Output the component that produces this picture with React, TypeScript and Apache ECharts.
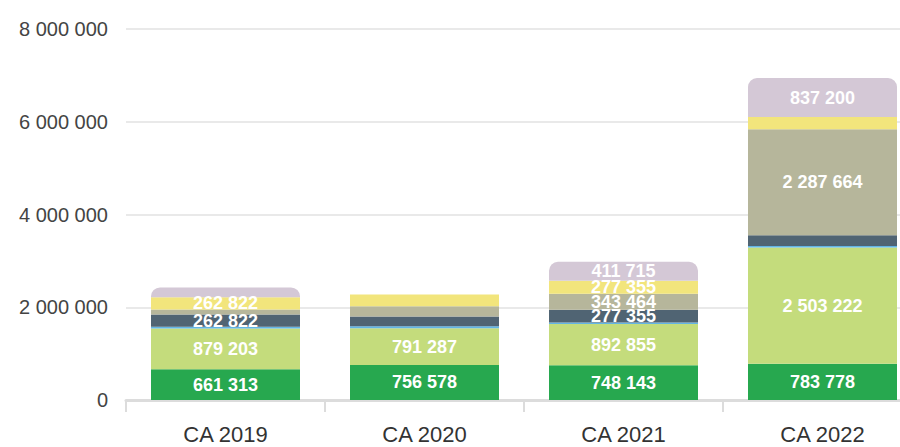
import React, { useEffect, useRef } from "react";
import * as echarts from "echarts";

const categories = ["CA 2019", "CA 2020", "CA 2021", "CA 2022"];

const seriesNames = ["S1", "S2", "S3", "S4", "S5", "S6", "S7"];
const green = [661313, 756578, 748143, 783778];
const lightGreen = [879203, 791287, 892855, 2503222];
const lightBlue = [40000, 40000, 30000, 35000];
const slate = [262822, 215000, 277355, 230000];
const tan = [107000, 221000, 343464, 2287664];
const yellow = [262822, 250000, 277355, 264000];
const lilac = [215000, null, 411715, 837200];

// which values are labelled in the reference
const greenShow = [true, true, true, true];
const lightGreenShow = [true, true, true, true];
const lightBlueShow = [false, false, false, false];
const slateShow = [true, false, true, false];
const tanShow = [false, false, true, true];
const yellowShow = [true, false, true, false];
const lilacShow = [false, false, true, true];

const colors = ["#27a84f", "#c4dc7c", "#62b5e5", "#506473", "#b6b69b", "#f2e57c", "#d4c8d6"];

const yTicks = [0, 2000000, 4000000, 6000000, 8000000];

const fmt = (v: number) => String(Math.round(v)).replace(/\B(?=(\d{3})+(?!\d))/g, " ");

export default function App() {
  const ref = useRef<HTMLDivElement>(null);
  useEffect(() => {
    document.body.style.margin = "0";
    if (!ref.current) return;
    const chart = echarts.init(ref.current, undefined, { renderer: "svg" });
    const data = [green, lightGreen, lightBlue, slate, tan, yellow, lilac];
    const shows = [greenShow, lightGreenShow, lightBlueShow, slateShow, tanShow, yellowShow, lilacShow];
    const series = data.map((arr, i) => ({
      name: seriesNames[i],
      type: "bar",
      stack: "total",
      barWidth: 149,
      itemStyle: {
        color: colors[i],
        borderRadius: i === 6 ? [9, 9, 0, 0] : 0,
      },
      data: arr.map((v, j) => ({
        value: v === null ? "-" : v,
        label: {
          show: shows[i][j],
          position: "inside",
          color: "#ffffff",
          fontSize: 18,
          fontWeight: "bold",
          fontFamily: "Liberation Sans, Arial, sans-serif",
          formatter: (p: any) => fmt(p.value),
        },
      })),
    }));
    chart.setOption({
      animation: false,
      grid: { left: 126, right: 0, top: 29, bottom: 47, containLabel: false, outerBoundsMode: "none" },
      xAxis: {
        type: "category",
        data: categories,
        axisLine: { lineStyle: { color: "#dcdcdc", width: 3 } },
        axisTick: { show: true, length: 12, lineStyle: { color: "#dcdcdc", width: 2 } },
        axisLabel: {
          color: "#333333",
          fontSize: 22,
          margin: 23,
          fontFamily: "Liberation Sans, Arial, sans-serif",
        },
      },
      yAxis: {
        type: "value",
        min: yTicks[0],
        max: yTicks[yTicks.length - 1],
        interval: yTicks[1] - yTicks[0],
        axisLine: { show: false },
        axisTick: { show: false },
        splitLine: { lineStyle: { color: "#e2e2e2", width: 1.5 } },
        axisLabel: {
          color: "#444444",
          fontSize: 20,
          margin: 18,
          fontFamily: "Liberation Sans, Arial, sans-serif",
          formatter: (v: number) => fmt(v),
        },
      },
      series,
    } as any);
    return () => chart.dispose();
  }, []);
  return (
    <div style={{ width: 900, height: 447, overflow: "hidden", position: "relative" }}>
      <div ref={ref} style={{ width: 922, height: 447 }} />
    </div>
  );
}
